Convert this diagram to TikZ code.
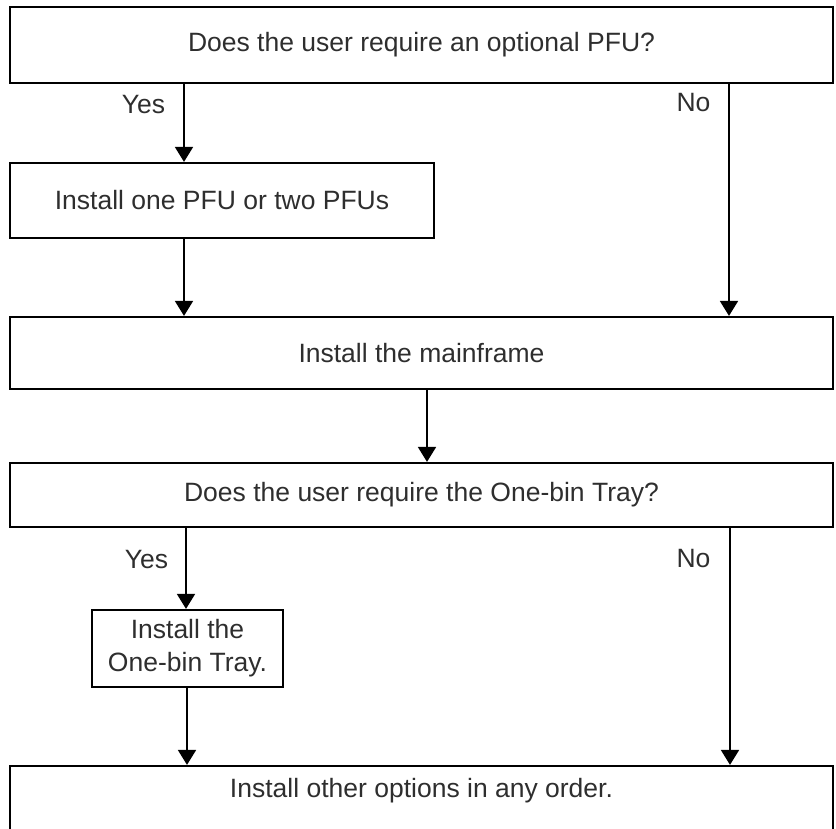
\documentclass[tikz,border=0pt]{standalone}
\usepackage{fontspec}
\setmainfont{Liberation Sans}
\usetikzlibrary{arrows.meta}
\definecolor{txt}{HTML}{2E2E2E}
\begin{document}
\begin{tikzpicture}[x=1pt,y=-1pt,
  box/.style={draw=black, line width=2.2pt, inner sep=0pt, text=txt,
    font=\fontsize{26.5pt}{33pt}\selectfont, align=center},
  arr/.style={line width=1.8pt, -{Triangle[width=18pt,length=15pt]}},
  lbl/.style={text=txt, font=\fontsize{26.5pt}{33pt}\selectfont, anchor=base, inner sep=0pt}]
\useasboundingbox (0,0) rectangle (836,828);
% boxes
\node[box, minimum width=823pt, minimum height=76pt] (q1) at (421.5,45) {Does the user require an optional PFU?};
\node[box, minimum width=424pt, minimum height=75pt] (s1) at (222,200.5) {Install one PFU or two PFUs};
\node[box, minimum width=823pt, minimum height=72pt] (s2) at (421.5,353) {Install the mainframe};
\node[box, minimum width=823pt, minimum height=64pt] (q2) at (421.5,495) {Does the user require the One-bin Tray?};
\node[box, minimum width=191pt, minimum height=77pt] (s3) at (187.5,648.5) {Install the\\One-bin Tray.};
\node[box, minimum width=823pt, minimum height=64pt, text height=19pt, text depth=21pt] (s4) at (421.5,798) {Install other options in any order.};
% x positions of connectors
\coordinate (c1) at (184,0);
\coordinate (c2) at (729,0);
\coordinate (c3) at (427,0);
\coordinate (c4) at (186,0);
\coordinate (c5) at (730,0);
\coordinate (c6) at (187,0);
% connectors
\draw[arr] (q1.south -| c1) -- (s1.north -| c1);
\draw[arr] (q1.south -| c2) -- (s2.north -| c2);
\draw[arr] (s1.south -| c1) -- (s2.north -| c1);
\draw[arr] (s2.south -| c3) -- (q2.north -| c3);
\draw[arr] (q2.south -| c4) -- (s3.north -| c4);
\draw[arr] (q2.south -| c5) -- (s4.north -| c5);
\draw[arr] (s3.south -| c6) -- (s4.north -| c6);
% labels
\node[lbl] (y1) at (143.5,113) {Yes};
\node[lbl] (n1) at (693.5,111) {No};
\node[lbl] (y2) at (146.5,568) {Yes};
\node[lbl] (n2) at (693.5,567) {No};
\end{tikzpicture}
\end{document}
